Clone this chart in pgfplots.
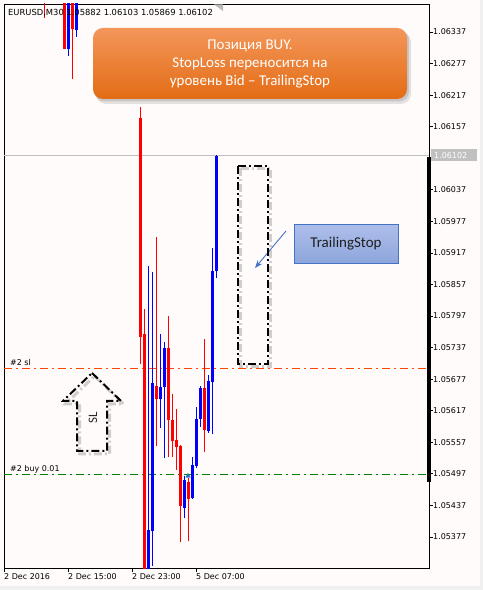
\documentclass[border=0pt]{standalone}
\usepackage{fontspec}
\usepackage{pgfplots}
\pgfplotsset{compat=1.18}
\usetikzlibrary{arrows.meta}
\newfontfamily\mtfont{DejaVu Sans}
\newfontfamily\calfont{Carlito}
\definecolor{bgc}{RGB}{255,251,250}
\definecolor{slc}{RGB}{255,69,0}
\definecolor{buyc}{RGB}{0,128,0}
\definecolor{pricec}{RGB}{192,192,192}
\definecolor{orTop}{RGB}{243,150,90}
\definecolor{orBot}{RGB}{227,108,20}
\definecolor{blTop}{RGB}{174,190,234}
\definecolor{blBot}{RGB}{142,166,220}
\definecolor{blEdge}{RGB}{68,114,196}
\definecolor{arrc}{RGB}{40,110,190}
\begin{document}
\begin{tikzpicture}
\begin{scope}[shift={(-4bp,568bp)}, x=1bp, y=-1bp]
 \path[use as bounding box, fill=bgc] (0,0) rectangle (483,590);
 \fill[gray!12] (0,586) rectangle (483,590);
 \fill[gray!12] (480,0) rectangle (483,590);
\end{scope}
\begin{axis}[
  at={(0,0)}, anchor=south west,
  width=425bp, height=564bp, scale only axis,
  xmin=0, xmax=106.25, ymin=1.053181, ymax=1.063902,
  clip=true,
  axis line style={black, line width=0.8bp},
  tick align=outside, major tick length=4bp,
  tick style={black, line width=0.8bp},
  xtick={0,16,32,48},
  xticklabels={2 Dec 2016, 2 Dec 15:00, 2 Dec 23:00, 5 Dec 07:00},
  xtick pos=bottom,
  xticklabel style={anchor=north west, inner sep=0pt, yshift=-1.5bp, font=\mtfont\fontsize{8}{9}\selectfont},
  ytick={1.06337,1.06277,1.06217,1.06157,1.06037,1.05977,1.05917,1.05857,1.05797,1.05737,1.05677,1.05617,1.05557,1.05497,1.05437,1.05377},
  yticklabels={1.06337,1.06277,1.06217,1.06157,1.06037,1.05977,1.05917,1.05857,1.05797,1.05737,1.05677,1.05617,1.05557,1.05497,1.05437,1.05377},
  ytick pos=right, yticklabel pos=right,
  yticklabel style={anchor=west, inner sep=0pt, font=\mtfont\fontsize{8}{9}\selectfont},
  unbounded coords=jump,
]
% horizontal levels
\addplot[pricec, line width=0.8bp] coordinates {(0,1.06102)(106.25,1.06102)};
\addplot[slc, line width=0.8bp, dash pattern=on 8bp off 4bp on 2bp off 4bp] coordinates {(0,1.05698)(106.25,1.05698)};
\addplot[buyc, line width=0.8bp, dash pattern=on 8bp off 4bp on 2bp off 4bp] coordinates {(0,1.05496)(106.25,1.05496)};
% red wicks (low to high)
\addplot[red, line width=1bp] coordinates {
(10,1.06364)(10,1.0650) (10,nan)
(15,1.06305)(15,1.0650) (15,nan)
(17,1.06248)(17,1.0650) (17,nan)
(34,1.05706)(34,1.06194) (34,nan)
(35,1.0525)(35,1.05810) (35,nan)
(38,1.05550)(38,1.05947) (38,nan)
(41,1.05529)(41,1.05797) (41,nan)
(42,1.05529)(42,1.05649) (42,nan)
(43,1.05505)(43,1.05620) (43,nan)
(44,1.05367)(44,1.05552) (44,nan)
(46,1.05369)(46,1.05489) (46,nan)
(50,1.05538)(50,1.05753)
};
% red bodies (close to open)
\addplot[red, line width=3bp] coordinates {
(15,1.06305)(15,1.0648) (15,nan)
(17,1.06343)(17,1.0647) (17,nan)
(34,1.05757)(34,1.06174) (34,nan)
(35,1.0528)(35,1.05763) (35,nan)
(38,1.05639)(38,1.05664) (38,nan)
(41,1.05599)(41,1.05736) (41,nan)
(42,1.05559)(42,1.05599) (42,nan)
(43,1.05548)(43,1.05561) (43,nan)
(44,1.05436)(44,1.05550) (44,nan)
(46,1.05450)(46,1.05482) (46,nan)
(50,1.05580)(50,1.05660)
};
% blue wicks
\addplot[blue, line width=1bp] coordinates {
(16,1.06291)(16,1.0650) (16,nan)
(18,1.06328)(18,1.0650) (18,nan)
(36,1.0525)(36,1.05892) (36,nan)
(37,1.05322)(37,1.05881) (37,nan)
(39,1.05584)(39,1.05763) (39,nan)
(40,1.05527)(40,1.05748) (40,nan)
(45,1.05413)(45,1.05493) (45,nan)
(47,1.05450)(47,1.05529) (47,nan)
(48,1.05508)(48,1.05624) (48,nan)
(49,1.05586)(49,1.05664) (49,nan)
(51,1.05575)(51,1.05685) (51,nan)
(52,1.05573)(52,1.05926) (52,nan)
(53,1.05869)(53,1.06103)
};
% blue bodies (open to close)
\addplot[blue, line width=3bp] coordinates {
(16,1.06305)(16,1.0646) (16,nan)
(18,1.06341)(18,1.0646) (18,nan)
(36,1.0527)(36,1.05390) (36,nan)
(37,1.05388)(37,1.05670) (37,nan)
(39,1.05639)(39,1.05662) (39,nan)
(40,1.05662)(40,1.05736) (40,nan)
(45,1.05432)(45,1.05485) (45,nan)
(47,1.05452)(47,1.05514) (47,nan)
(48,1.05512)(48,1.05601) (48,nan)
(49,1.05601)(49,1.05660) (49,nan)
(51,1.05578)(51,1.05674) (51,nan)
(52,1.05672)(52,1.05882) (52,nan)
(53,1.05882)(53,1.06102)
};
% buy arrow
\addplot[only marks, mark=triangle*, mark size=2.6bp, color=arrc] coordinates {(46,1.05493)};
\end{axis}
\begin{scope}[shift={(-4bp,568bp)}, x=1bp, y=-1bp]
 % title
 \node[anchor=base west, inner sep=0pt, font=\mtfont\fontsize{8.4}{9}\selectfont] at (8,15.5) {EURUSD,M30 1.05882 1.06103 1.05869 1.06102};
 \fill[gray!55] (214,4.5) -- (223,4.5) -- (223,11) -- cycle;
 % current price label and position bar
 \fill[pricec] (431,149.5) rectangle (477,161.5);
 \node[anchor=base west, inner sep=0pt, text=white, font=\mtfont\fontsize{8}{9}\selectfont] at (434,158.8) {1.06102};
 \fill[black] (427,157) rectangle (430.5,482);
 % order labels
 \node[anchor=base west, inner sep=0pt, font=\mtfont\fontsize{8}{9}\selectfont] at (10,366) {\#2 sl};
 \node[anchor=base west, inner sep=0pt, font=\mtfont\fontsize{8}{9}\selectfont] at (10,472) {\#2 buy 0.01};
 % orange callout
 \fill[black, opacity=0.10, rounded corners=10bp] (96,32) rectangle (411,104);
 \fill[black, opacity=0.12, rounded corners=10bp] (94.5,30) rectangle (409,101.5);
 \shade[top color=orTop, bottom color=orBot, rounded corners=10bp] (93,28) rectangle (407,99);
 \node[text=white, align=center, font=\calfont\fontsize{15}{18.5}\selectfont] at (250,64) {Позиция BUY.\\StopLoss переносится на\\уровень Bid – TrailingStop};
 % TrailingStop box
 \shade[top color=blTop, bottom color=blBot] (294,224.5) rectangle (398.5,263);
 \draw[blEdge, line width=0.8bp] (294,224.5) rectangle (398.5,263);
 \node[text={rgb,255:red,30;green,30;blue,30}, font=\calfont\fontsize{15}{18}\selectfont] at (346,244) {TrailingStop};
 \draw[blEdge, line width=0.9bp, -{Stealth[length=8bp,width=6bp]}] (286,231) -- (255,268);
 % dash-dot rectangle
 \draw[black, opacity=0.18, line width=3bp, dash pattern=on 8bp off 3bp on 2bp off 3bp] (240.5,168.5) rectangle (270.5,366.5);
 \draw[black, line width=2bp, dash pattern=on 8bp off 3bp on 2bp off 3bp] (238,166) rectangle (268,364);
 % SL arrow
 \draw[black, opacity=0.18, line width=3bp, dash pattern=on 8bp off 3bp on 2bp off 3bp, line join=miter] (94.5,376) -- (123.5,404) -- (109.5,404) -- (109.5,454) -- (79.5,454) -- (79.5,404) -- (65.5,404) -- cycle;
 \draw[black, line width=2bp, dash pattern=on 8bp off 3bp on 2bp off 3bp, line join=miter] (92,373) -- (121,401) -- (107,401) -- (107,451) -- (77,451) -- (77,401) -- (63,401) -- cycle;
 \node[rotate=90, text={rgb,255:red,40;green,40;blue,40}, font=\calfont\fontsize{13}{15}\selectfont] at (93,418) {SL};
\end{scope}
\end{tikzpicture}
\end{document}
